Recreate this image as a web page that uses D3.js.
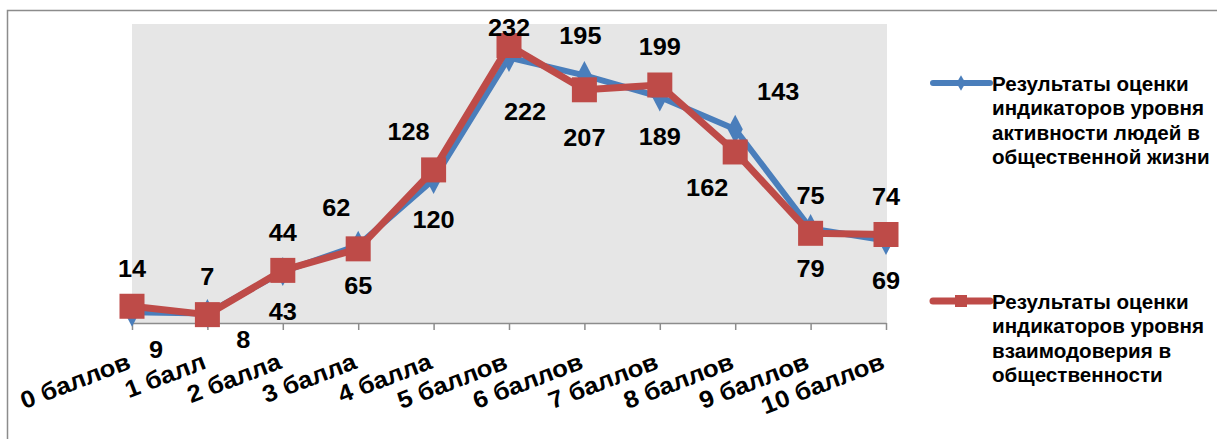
<!DOCTYPE html>
<html>
<head>
<meta charset="utf-8">
<script src="https://cdn.jsdelivr.net/npm/d3@7"></script>
<style>
  body { margin: 0; background: #fff; }
  text { font-family: Arial, "Liberation Sans", sans-serif; font-weight: bold; fill: #000; }
</style>
</head>
<body>
<div id="chart"></div>
<script>
const categories = ['0 баллов', '1 балл', '2 балла', '3 балла', '4 балла', '5 баллов',
    '6 баллов', '7 баллов', '8 баллов', '9 баллов', '10 баллов']
const activity = [9, 8, 43, 65, 120, 222, 207, 189, 162, 79, 69]
const trust = [14, 7, 44, 62, 128, 232, 195, 199, 143, 75, 74]
const seriesNames = [
    ['Результаты оценки', 'индикаторов уровня', 'активности людей в', 'общественной жизни'],
    ['Результаты оценки', 'индикаторов уровня', 'взаимодоверия в', 'общественности']]

// hand placed label nudges, like the ones moved by hand in the original
const activityShift = [[24, -3], [36, -14], [0, 0], [0, 0], [0, 0], [16, 14], [0, 22], [0, 0], [-28, 18], [0, 0], [0, 0]]
const trustShift = [[0, 0], [0, 0], [0, 0], [-22, -3], [-25, 0], [0, 20], [-4, -16], [0, 0], [43, -22], [0, 0], [0, 0]]

const width = 1217, height = 439
const plotLeft = 132, plotRight = 886, plotTop = 24, plotBottom = 323

const svg = d3.select('#chart').append('svg').attr('width', width).attr('height', height)

// frame
svg.append('path').attr('d', `M7.5,${height} V10.5 H${width}`).attr('fill', 'none').attr('stroke', '#8c8c8c').attr('stroke-width', 1.5)

const x = d3.scalePoint().domain(categories).range([plotLeft, plotRight])
const y = d3.scaleLinear().domain([0, 250]).range([plotBottom, plotTop])

svg.append('rect').attr('x', plotLeft).attr('y', plotTop).attr('width', plotRight - plotLeft + 1).attr('height', plotBottom - plotTop).attr('fill', '#e6e6e6')

const xAxis = svg.append('g').attr('transform', `translate(0,${plotBottom})`).
    call(d3.axisBottom(x).tickSize(7).tickSizeOuter(0).tickFormat(''))
xAxis.select('.domain').attr('stroke', '#8c8c8c').attr('stroke-width', 1.5)
xAxis.selectAll('.tick line').attr('stroke', '#8c8c8c').attr('stroke-width', 1.5)

svg.selectAll('.xlabel').
    data(categories).
    enter().
    append('text').
    attr('class', 'xlabel').
    attr('transform', d => `translate(${x(d)},${plotBottom + 45}) rotate(-21) scale(1.07,1)`).
    attr('text-anchor', 'end').
    style('font-size', '24px').
    text(d => d)

const line = d3.line().x((d, i) => x(categories[i])).y(d => y(d))

const blue = '#4a7ebb', red = '#be4b48'

// blue series
svg.append('path').attr('d', line(activity)).attr('fill', 'none').attr('stroke', blue).attr('stroke-width', 6).attr('stroke-linejoin', 'round')
svg.selectAll('.dia').
    data(activity).
    enter().
    append('path').
    attr('d', d3.symbol().type(d3.symbolDiamond).size(200)).
    attr('transform', (d, i) => `translate(${x(categories[i])},${y(d)}) scale(1,1.1)`).
    attr('fill', blue)

// red series
svg.append('path').attr('d', line(trust)).attr('fill', 'none').attr('stroke', red).attr('stroke-width', 7).attr('stroke-linejoin', 'round')
svg.selectAll('.sq').
    data(trust).
    enter().
    append('rect').
    attr('x', (d, i) => x(categories[i]) - 12.5).
    attr('y', d => y(d) - 12.5).
    attr('width', 25).
    attr('height', 25).
    attr('fill', red)

// labels
svg.selectAll('.lb').
    data(activity).
    enter().
    append('text').
    attr('transform', (d, i) => `translate(${x(categories[i]) + activityShift[i][0]},${y(d) + 40 + activityShift[i][1]}) scale(1.1,1)`).
    attr('dy', '0.36em').
    attr('text-anchor', 'middle').
    style('font-size', '23px').
    text(d => d)
svg.selectAll('.lr').
    data(trust).
    enter().
    append('text').
    attr('transform', (d, i) => `translate(${x(categories[i]) + trustShift[i][0]},${y(d) - 38 + trustShift[i][1]}) scale(1.1,1)`).
    attr('dy', '0.36em').
    attr('text-anchor', 'middle').
    style('font-size', '23px').
    text(d => d)

// legend
const legendY = [83, 301]
const colors = [blue, red]
seriesNames.forEach((lines, k) => {
    const g = svg.append('g').attr('transform', `translate(933,${legendY[k]})`)
    g.append('line').attr('x1', 0).attr('x2', 57).attr('stroke', colors[k]).attr('stroke-width', k ? 7 : 6).attr('stroke-linecap', 'round')
    if (k === 0) {
        g.append('path').attr('d', d3.symbol().type(d3.symbolDiamond).size(70)).attr('transform', 'translate(28,0)').attr('fill', blue)
    } else {
        g.append('rect').attr('x', 22).attr('y', -6).attr('width', 12).attr('height', 12).attr('fill', red)
    }
    g.append('text').
        attr('transform', 'translate(59,0) scale(1.03,1)').
        selectAll('tspan').
        data(lines).
        enter().
        append('tspan').
        attr('x', 0).
        attr('y', (d, i) => 8 + i * 24.3).
        style('font-size', '20px').
        text(d => d)
})
</script>
</body>
</html>
